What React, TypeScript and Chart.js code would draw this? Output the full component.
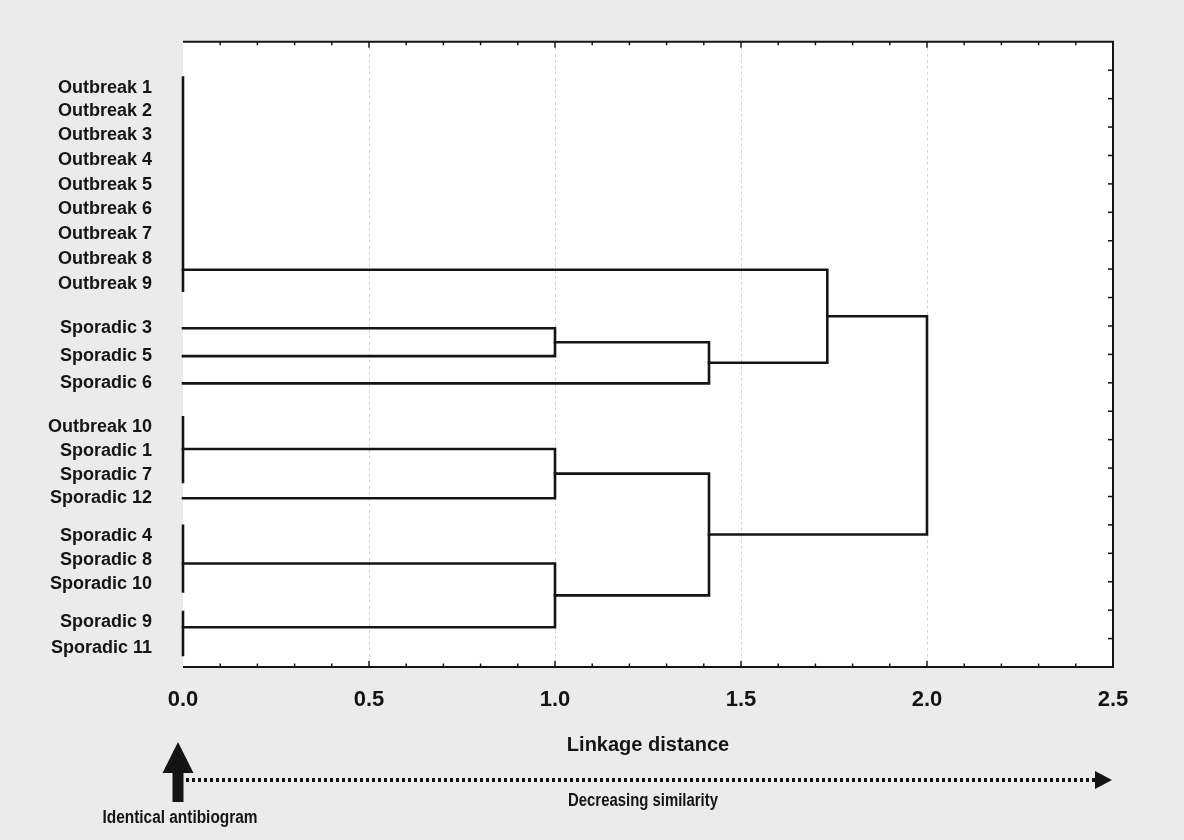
import React, { useEffect, useRef } from 'react';
import { Chart, registerables } from 'chart.js';

Chart.register(...registerables);

// ---- data ----
const leafLabels = [
  'Outbreak 1', 'Outbreak 2', 'Outbreak 3', 'Outbreak 4', 'Outbreak 5',
  'Outbreak 6', 'Outbreak 7', 'Outbreak 8', 'Outbreak 9',
  'Sporadic 3', 'Sporadic 5', 'Sporadic 6',
  'Outbreak 10', 'Sporadic 1', 'Sporadic 7', 'Sporadic 12',
  'Sporadic 4', 'Sporadic 8', 'Sporadic 10',
  'Sporadic 9', 'Sporadic 11',
];
// vertical position of each leaf (row units of the 0..22 vertical scale)
const leafRows = [
  1.61, 2.45, 3.29, 4.17, 5.04, 5.89, 6.76, 7.64, 8.51,
  10.08, 11.06, 12.02,
  13.56, 14.40, 15.24, 16.06,
  17.38, 18.25, 19.09,
  20.42, 21.33,
];
// groups of leaves with identical antibiograms (linkage distance 0)
const identicalGroups = [
  [0, 1, 2, 3, 4, 5, 6, 7, 8],
  [9],
  [10],
  [11],
  [12, 13, 14],
  [15],
  [16, 17, 18],
  [19, 20],
];
// row where each multi-leaf group's link leaves the zero line (null = single leaf)
const groupJoinRows = [8.02, null, null, null, 14.33, null, 18.36, 20.6];
// agglomeration steps: node ids 0..7 are the groups, 8.. are the merges in order
const mergeLeft = [1, 8, 0, 4, 6, 11, 10];
const mergeRight = [2, 3, 9, 5, 7, 12, 13];
const mergeDistance = [1.0, 1.414, 1.732, 1.0, 1.0, 1.414, 2.0];

const xTickValues = [0, 0.5, 1.0, 1.5, 2.0, 2.5];
const xAxisTitle = 'Linkage distance';
const leftNote = 'Identical antibiogram';
const rightNote = 'Decreasing similarity';

const FONT = '"Liberation Sans", Arial, sans-serif';
const INK = '#141414';

function segment(points: { x: number; y: number }[]) {
  return {
    data: points,
    showLine: true,
    borderColor: INK,
    borderWidth: 2.6,
    pointRadius: 0,
    pointHoverRadius: 0,
    fill: false,
    tension: 0,
    clip: false as any,
    borderCapStyle: 'square' as const,
    borderJoinStyle: 'miter' as const,
  };
}

function buildDatasets() {
  const nodeRow: number[] = [];
  const nodeHeight: number[] = [];
  const datasets: any[] = [];
  identicalGroups.forEach((g, i) => {
    const rows = g.map((k) => leafRows[k]);
    if (g.length > 1) {
      nodeRow[i] = groupJoinRows[i] as number;
      datasets.push(
        segment([
          { x: 0, y: Math.min(...rows) - 0.35 },
          { x: 0, y: Math.max(...rows) + 0.25 },
        ])
      );
    } else {
      nodeRow[i] = rows[0];
    }
    nodeHeight[i] = 0;
  });
  mergeLeft.forEach((a, m) => {
    const b = mergeRight[m];
    const d = mergeDistance[m];
    const id = identicalGroups.length + m;
    datasets.push(
      segment([
        { x: nodeHeight[a], y: nodeRow[a] },
        { x: d, y: nodeRow[a] },
        { x: d, y: nodeRow[b] },
        { x: nodeHeight[b], y: nodeRow[b] },
      ])
    );
    nodeRow[id] = (nodeRow[a] + nodeRow[b]) / 2;
    nodeHeight[id] = d;
  });
  return datasets;
}

// draw condensed text (the reference uses a condensed face)
function condensedText(ctx: CanvasRenderingContext2D, text: string, cx: number, cy: number, width: number) {
  const w = ctx.measureText(text).width;
  const k = Math.min(1, width / w);
  ctx.save();
  ctx.translate(cx, cy);
  ctx.scale(k, 1);
  ctx.fillText(text, 0, 0);
  ctx.restore();
}

const framePlugin = {
  id: 'dendroFrame',
  beforeDraw(chart: any) {
    const { ctx, chartArea: a, width, height } = chart;
    const xs = chart.scales.x;
    ctx.save();
    ctx.fillStyle = '#ebebeb';
    ctx.fillRect(0, 0, width, height);
    ctx.fillStyle = '#ffffff';
    ctx.fillRect(a.left, a.top, a.right - a.left, a.bottom - a.top);
    // faint dotted grid lines
    ctx.strokeStyle = '#d4d4d4';
    ctx.lineWidth = 1;
    ctx.setLineDash([3, 3]);
    xTickValues.forEach((v) => {
      if (v <= xs.min || v >= xs.max) return;
      const px = Math.round(xs.getPixelForValue(v)) + 0.5;
      ctx.beginPath();
      ctx.moveTo(px, a.top + 6);
      ctx.lineTo(px, a.bottom - 6);
      ctx.stroke();
    });
    ctx.restore();
  },
  afterDraw(chart: any) {
    const { ctx, chartArea: a } = chart;
    const xs = chart.scales.x;
    const ys = chart.scales.y2;
    ctx.save();
    ctx.strokeStyle = INK;
    ctx.setLineDash([]);
    // frame: top, right, bottom (no left border)
    ctx.lineWidth = 2;
    ctx.beginPath();
    ctx.moveTo(a.left, a.top);
    ctx.lineTo(a.right, a.top);
    ctx.lineTo(a.right, a.bottom);
    ctx.lineTo(a.left, a.bottom);
    ctx.stroke();
    // inward tick marks on top and bottom (0.1 steps, longer at 0.5)
    ctx.lineWidth = 1.5;
    for (let k = 1; k < 25; k++) {
      const v = k / 10;
      const px = xs.getPixelForValue(v);
      const len = k % 5 === 0 ? 6 : 3.5;
      ctx.beginPath();
      ctx.moveTo(px, a.top);
      ctx.lineTo(px, a.top + len);
      ctx.moveTo(px, a.bottom);
      ctx.lineTo(px, a.bottom - len);
      ctx.stroke();
    }
    // inward tick marks on the right side
    ys.ticks.forEach((t: any) => {
      if (t.value <= ys.min || t.value >= ys.max) return;
      const py = ys.getPixelForValue(t.value);
      ctx.beginPath();
      ctx.moveTo(a.right, py);
      ctx.lineTo(a.right - 5, py);
      ctx.stroke();
    });

    // big arrow: identical antibiogram
    const x0 = xs.getPixelForValue(0);
    const x1 = xs.getPixelForValue(xs.max);
    const cx = x0 - 5;
    ctx.fillStyle = INK;
    ctx.beginPath();
    ctx.moveTo(cx, 742);
    ctx.lineTo(cx + 15.5, 773);
    ctx.lineTo(cx + 5.5, 773);
    ctx.lineTo(cx + 5.5, 802);
    ctx.lineTo(cx - 5.5, 802);
    ctx.lineTo(cx - 5.5, 773);
    ctx.lineTo(cx - 15.5, 773);
    ctx.closePath();
    ctx.fill();

    // dotted arrow: decreasing similarity
    const dy = 780;
    ctx.lineWidth = 4;
    ctx.setLineDash([3, 3]);
    ctx.beginPath();
    ctx.moveTo(x0 + 3, dy);
    ctx.lineTo(x1 - 17, dy);
    ctx.stroke();
    ctx.setLineDash([]);
    ctx.beginPath();
    ctx.moveTo(x1 - 1, dy);
    ctx.lineTo(x1 - 18, dy - 9);
    ctx.lineTo(x1 - 18, dy + 9);
    ctx.closePath();
    ctx.fill();

    // notes
    ctx.font = `bold 18px ${FONT}`;
    ctx.textAlign = 'center';
    ctx.textBaseline = 'middle';
    condensedText(ctx, leftNote, cx + 2, 818, 155);
    condensedText(ctx, rightNote, (a.left + a.right) / 2 - 5, 801, 150);
    ctx.restore();
  },
};

export default function App() {
  const ref = useRef<HTMLCanvasElement | null>(null);
  useEffect(() => {
    if (!ref.current) return;
    const chart = new Chart(ref.current, {
      type: 'scatter',
      data: { datasets: buildDatasets() },
      options: {
        animation: false,
        responsive: false,
        devicePixelRatio: 1,
        events: [],
        layout: { padding: { top: 39, left: 0, right: 0, bottom: 0 } },
        plugins: {
          legend: { display: false },
          tooltip: { enabled: false },
          title: { display: false },
        },
        scales: {
          x: {
            type: 'linear',
            position: 'bottom',
            min: 0,
            max: 2.5,
            afterBuildTicks: (s: any) => {
              s.ticks = xTickValues.map((v) => ({ value: v }));
            },
            ticks: {
              callback: (v: any) => Number(v).toFixed(1),
              font: { family: FONT, size: 22, weight: 'bold' },
              color: INK,
              padding: 20,
              maxRotation: 0,
              autoSkip: false,
            },
            grid: { display: false, drawTicks: false },
            border: { display: false },
            title: {
              display: true,
              text: xAxisTitle,
              font: { family: FONT, size: 20, weight: 'bold' },
              color: INK,
              padding: { top: 0, bottom: 83 },
            },
            afterFit: (s: any) => {
              s.height = 173;
            },
          },
          y: {
            type: 'linear',
            position: 'left',
            min: 0,
            max: 22,
            reverse: true,
            afterBuildTicks: (s: any) => {
              s.ticks = leafRows.map((v) => ({ value: v }));
            },
            ticks: {
              callback: (_v: any, i: number) => leafLabels[i],
              autoSkip: false,
              font: { family: FONT, size: 18, weight: 'bold' },
              color: INK,
              padding: 31,
            },
            grid: { display: false, drawTicks: false },
            border: { display: false },
            afterFit: (s: any) => {
              s.width = 183;
            },
          },
          y2: {
            type: 'linear',
            position: 'right',
            min: 0,
            max: 22,
            reverse: true,
            ticks: { display: false, stepSize: 1 },
            grid: { display: false, drawTicks: false },
            border: { display: false },
            afterFit: (s: any) => {
              s.width = 71;
            },
          },
        },
      } as any,
      plugins: [framePlugin],
    });
    return () => chart.destroy();
  }, []);

  return (
    <div style={{ position: 'fixed', left: 0, top: 0, width: 1184, height: 840, background: '#ebebeb' }}>
      <canvas ref={ref} width={1184} height={840} style={{ display: 'block', width: 1184, height: 840 }} />
    </div>
  );
}
